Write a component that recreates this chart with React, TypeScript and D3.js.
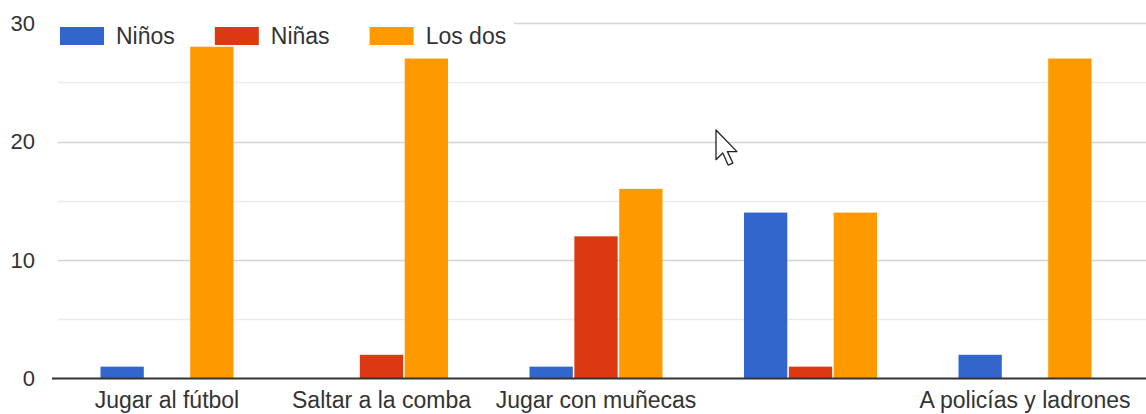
import React, { useEffect, useRef } from "react";
import * as d3 from "d3";

const categories = ["Jugar al fútbol", "Saltar a la comba", "Jugar con muñecas", "", "A policías y ladrones"];
const seriesNames = ["Niños", "Niñas", "Los dos"];
const ninos = [1, 0, 1, 14, 2];
const ninas = [0, 2, 12, 1, 0];
const losDos = [28, 27, 16, 14, 27];
const yTicks = [0, 10, 20, 30];
const yMinorTicks = [5, 15, 25];
const colors = ["#3366cc", "#dc3912", "#ff9900"];

const W = 1146;
const H = 414;
const FONT = "'Liberation Sans', Arial, sans-serif";

export default function App() {
  const ref = useRef<SVGSVGElement>(null);

  useEffect(() => {
    const svg = d3.select(ref.current);
    svg.selectAll("*").remove();

    const series = [ninos, ninas, losDos];
    const plotLeft = 58;
    const plotRight = W;
    const y = d3.scaleLinear().domain([0, 30]).range([378.5, 23]);
    const x0 = d3
      .scaleBand<number>()
      .domain(categories.map((_, i) => i))
      .range([59.75, 1132.25])
      .paddingInner(0.38)
      .paddingOuter(0.19);
    const x1 = d3
      .scaleBand<number>()
      .domain(seriesNames.map((_, i) => i))
      .range([0, x0.bandwidth()])
      .paddingInner(0.035);

    // minor gridlines
    svg
      .append("g")
      .selectAll("line")
      .data(yMinorTicks)
      .join("line")
      .attr("x1", plotLeft)
      .attr("x2", plotRight)
      .attr("y1", (d) => Math.round(y(d)) + 0.5)
      .attr("y2", (d) => Math.round(y(d)) + 0.5)
      .attr("stroke", "#ebebeb")
      .attr("stroke-width", 1.5);

    // major gridlines
    svg
      .append("g")
      .selectAll("line")
      .data(yTicks.filter((t) => t !== 0))
      .join("line")
      .attr("x1", plotLeft)
      .attr("x2", plotRight)
      .attr("y1", (d) => Math.round(y(d)) + 0.5)
      .attr("y2", (d) => Math.round(y(d)) + 0.5)
      .attr("stroke", "#d4d4d4")
      .attr("stroke-width", 1.5);

    // y tick labels
    svg
      .append("g")
      .selectAll("text")
      .data(yTicks)
      .join("text")
      .attr("x", 35)
      .attr("y", (d) => y(d))
      .attr("dy", "0.36em")
      .attr("text-anchor", "end")
      .attr("font-family", FONT)
      .attr("font-size", 22)
      .attr("fill", "#333")
      .text((d) => String(d));

    // bars
    const g = svg.append("g");
    series.forEach((vals, si) => {
      g.append("g")
        .selectAll("rect")
        .data(vals)
        .join("rect")
        .attr("x", (_, i) => (x0(i) ?? 0) + (x1(si) ?? 0))
        .attr("width", x1.bandwidth())
        .attr("y", (d) => y(d))
        .attr("height", (d) => y(0) - y(d))
        .attr("fill", colors[si]);
    });

    // baseline
    svg
      .append("line")
      .attr("x1", 52)
      .attr("x2", W)
      .attr("y1", y(0))
      .attr("y2", y(0))
      .attr("stroke", "#333")
      .attr("stroke-width", 2);

    // category labels
    svg
      .append("g")
      .selectAll("text")
      .data(categories)
      .join("text")
      .attr("x", (_, i) => (x0(i) ?? 0) + x0.bandwidth() / 2)
      .attr("y", 408)
      .attr("text-anchor", "middle")
      .attr("font-family", FONT)
      .attr("font-size", 23)
      .attr("fill", "#333")
      .text((d) => d);

    // legend
    const lg = svg.append("g");
    lg.append("rect").attr("x", 50).attr("y", 14).attr("width", 464).attr("height", 32).attr("fill", "#fff");
    let lx = 60;
    seriesNames.forEach((name, i) => {
      lg.append("rect")
        .attr("x", lx)
        .attr("y", 27)
        .attr("width", 44)
        .attr("height", 18)
        .attr("fill", colors[i]);
      const t = lg
        .append("text")
        .attr("x", lx + 56)
        .attr("y", 44)
        .attr("font-family", FONT)
        .attr("font-size", 23)
        .attr("fill", "#333")
        .text(name);
      const tw = (t.node() as SVGTextElement).getComputedTextLength();
      lx = lx + 56 + tw + 40;
    });

    // mouse cursor (screenshot artifact)
    const s = 1.35;
    const pts: [number, number][] = [
      [0, 0], [0, 22], [5, 17], [9, 26], [12.5, 24.5], [8.5, 16], [15.5, 16],
    ];
    svg
      .append("path")
      .attr("d", "M" + pts.map(([a, b]) => `${716 + a * s},${130 + b * s}`).join("L") + "Z")
      .attr("fill", "#fff")
      .attr("stroke", "#222")
      .attr("stroke-width", 1.3)
      .attr("stroke-linejoin", "round");
  }, []);

  return (
    <svg
      ref={ref}
      width={W}
      height={H}
      style={{ position: "absolute", left: 0, top: 0, background: "#fff", display: "block" }}
    />
  );
}
